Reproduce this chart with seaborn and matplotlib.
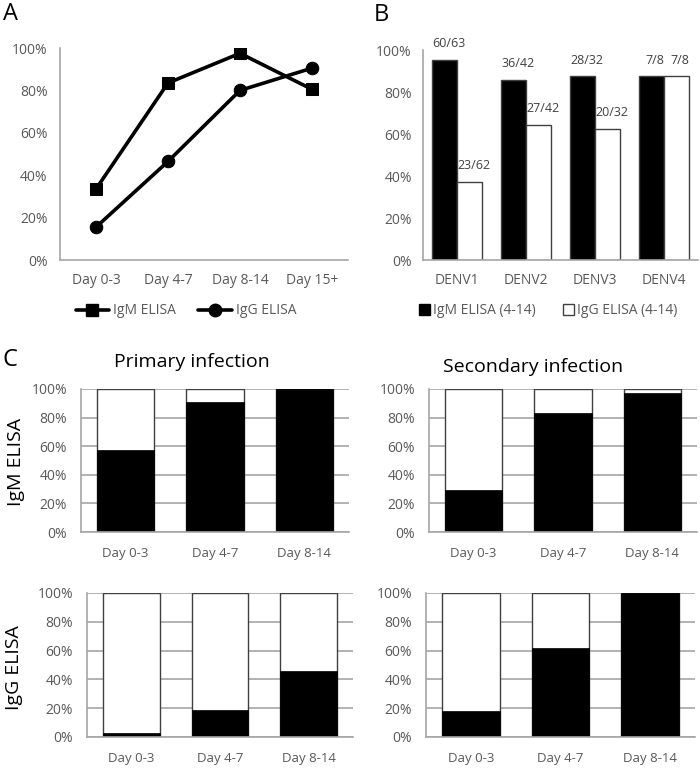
"""Antibody detection by ELISA - panels A, B, C"""

import numpy as np
import pandas as pd
import matplotlib
matplotlib.use("Agg")
import matplotlib.pyplot as plt
import seaborn as sns
from matplotlib.ticker import PercentFormatter
from matplotlib.patches import Patch

# Panel A: positivity by day of illness
days_a = ["Day 0-3", "Day 4-7", "Day 8-14", "Day 15+"]
igm_a = [33.5, 83.5, 97.5, 80.5]
igg_a = [15.5, 46.5, 80.0, 90.5]

# Panel B: positives / tested per serotype (days 4-14)
serotypes = ["DENV1", "DENV2", "DENV3", "DENV4"]
igm_pos = [60, 36, 28, 7]
igm_n = [63, 42, 32, 8]
igg_pos = [23, 27, 20, 7]
igg_n = [62, 42, 32, 8]

# Panel C: share positive (black) per day group
days_c = ["Day 0-3", "Day 4-7", "Day 8-14"]
igm_primary = [57.5, 91.0, 100.0]
igm_secondary = [29.5, 83.0, 97.5]
igg_primary = [3.0, 18.5, 46.0]
igg_secondary = [18.0, 61.5, 100.0]
total_c = [100, 100, 100]

TEXT = "#595959"
SPINE = "#a6a6a6"
W, H = 700, 769

sns.set_theme(style="white")
plt.rcParams["font.family"] = ["Open Sans", "DejaVu Sans"]
plt.rcParams["text.color"] = TEXT
plt.rcParams["xtick.color"] = TEXT
plt.rcParams["ytick.color"] = TEXT

fig = plt.figure(figsize=(W / 100, H / 100), dpi=100)


def px_axes(x0, y0, x1, y1):
    return fig.add_axes([x0 / W, 1 - y1 / H, (x1 - x0) / W, (y1 - y0) / H])


def style_axes(ax, grid=False, fs_x=10, fs_y=10, pad_x=9, pad_y=9):
    ax.set_ylim(0, 100)
    ax.set_yticks(np.arange(0, 101, 20))
    ax.yaxis.set_major_formatter(PercentFormatter(xmax=100, decimals=0))
    ax.set_xlabel("")
    ax.set_ylabel("")
    for side in ["top", "right"]:
        ax.spines[side].set_visible(False)
    for side in ["left", "bottom"]:
        ax.spines[side].set_color(SPINE)
        ax.spines[side].set_linewidth(1.2)
    ax.tick_params(axis="x", length=0, pad=pad_x, labelsize=fs_x)
    ax.tick_params(axis="y", length=0, pad=pad_y, labelsize=fs_y)
    if grid:
        ax.yaxis.grid(True, color=SPINE, linewidth=1.2)
        ax.set_axisbelow(True)


# ---- Panel A ----
ax_a = px_axes(60, 48, 348, 260)
df_a = pd.DataFrame({
    "day": days_a * 2,
    "pct": igm_a + igg_a,
    "test": ["IgM ELISA"] * len(days_a) + ["IgG ELISA"] * len(days_a),
})
sns.lineplot(data=df_a, x="day", y="pct", hue="test", style="test",
             palette=["black", "black"], markers={"IgM ELISA": "s", "IgG ELISA": "o"},
             dashes=False, linewidth=2.6, markersize=9,
             markeredgecolor="black", ax=ax_a)
ax_a.set_xlim(-0.5, 3.5)
style_axes(ax_a)
ax_a.get_legend().remove()
handles_a = [
    plt.Line2D([], [], color="black", lw=2.6, marker="s", markersize=9),
    plt.Line2D([], [], color="black", lw=2.6, marker="o", markersize=9),
]
fig.legend(handles_a, ["IgM ELISA", "IgG ELISA"], loc="center",
           bbox_to_anchor=(186 / W, 1 - 311 / H), ncol=2, frameon=False,
           fontsize=10, handlelength=2.4, handletextpad=0.3, columnspacing=1.6)

# ---- Panel B ----
ax_b = px_axes(423, 50, 698, 260)
df_b = pd.DataFrame({
    "serotype": serotypes * 2,
    "pct": [p / n * 100 for p, n in zip(igm_pos, igm_n)]
           + [p / n * 100 for p, n in zip(igg_pos, igg_n)],
    "test": ["IgM ELISA (4-14)"] * 4 + ["IgG ELISA (4-14)"] * 4,
})
sns.barplot(data=df_b, x="serotype", y="pct", hue="test",
            palette=["black", "white"], saturation=1, width=0.73,
            edgecolor="#404040", linewidth=1.0, ax=ax_b)
ax_b.set_xlim(-0.5, 3.5)
style_axes(ax_b, pad_y=8)
ax_b.get_legend().remove()
labels_b = [[f"{p}/{n}" for p, n in zip(igm_pos, igm_n)],
            [f"{p}/{n}" for p, n in zip(igg_pos, igg_n)]]
for cont, labs in zip(ax_b.containers, labels_b):
    anns = ax_b.bar_label(cont, labels=labs, padding=7, fontsize=9,
                          color="#404040")
    for ann in anns:
        ann.xyann = (3, 7)
handles_b = [Patch(facecolor="black", edgecolor="black"),
             Patch(facecolor="white", edgecolor="#404040")]
fig.legend(handles_b, ["IgM ELISA (4-14)", "IgG ELISA (4-14)"], loc="center",
           bbox_to_anchor=(548 / W, 1 - 311 / H), ncol=2, frameon=False,
           fontsize=10, handlelength=0.8, handleheight=0.8,
           handletextpad=0.2, columnspacing=2.0)

# ---- Panel C ----
panels_c = [
    ((81, 389, 349, 532), igm_primary),
    ((429, 389, 697, 532), igm_secondary),
    ((87, 593, 353, 737), igg_primary),
    ((426, 593, 695, 737), igg_secondary),
]
for box, vals in panels_c:
    ax = px_axes(*box)
    sns.barplot(x=days_c, y=total_c, color="white", saturation=1, width=0.64,
                edgecolor="#404040", linewidth=1.0, ax=ax)
    sns.barplot(x=days_c, y=vals, color="black", saturation=1, width=0.64,
                edgecolor="black", linewidth=0.5, ax=ax)
    ax.set_xlim(-0.5, 2.5)
    style_axes(ax, grid=True, fs_x=9.5, fs_y=10, pad_x=11, pad_y=10)

fig.text(192 / W, 1 - 362 / H, "Primary infection", ha="center", va="center",
         fontsize=14, color="black")
fig.text(533 / W, 1 - 367 / H, "Secondary infection", ha="center", va="center",
         fontsize=14, color="black")
fig.text(16 / W, 1 - 462 / H, "IgM ELISA", rotation=90, ha="center",
         va="center", fontsize=14, color="black")
fig.text(14 / W, 1 - 668 / H, "IgG ELISA", rotation=90, ha="center",
         va="center", fontsize=14, color="black")

# panel letters
for lab, x, y in [("A", 3, 2), ("B", 374, 3), ("C", 3, 348)]:
    fig.text(x / W, 1 - y / H, lab, ha="left", va="top", fontsize=17,
             color="black")

fig.savefig("out.png", dpi=100, facecolor="white")
